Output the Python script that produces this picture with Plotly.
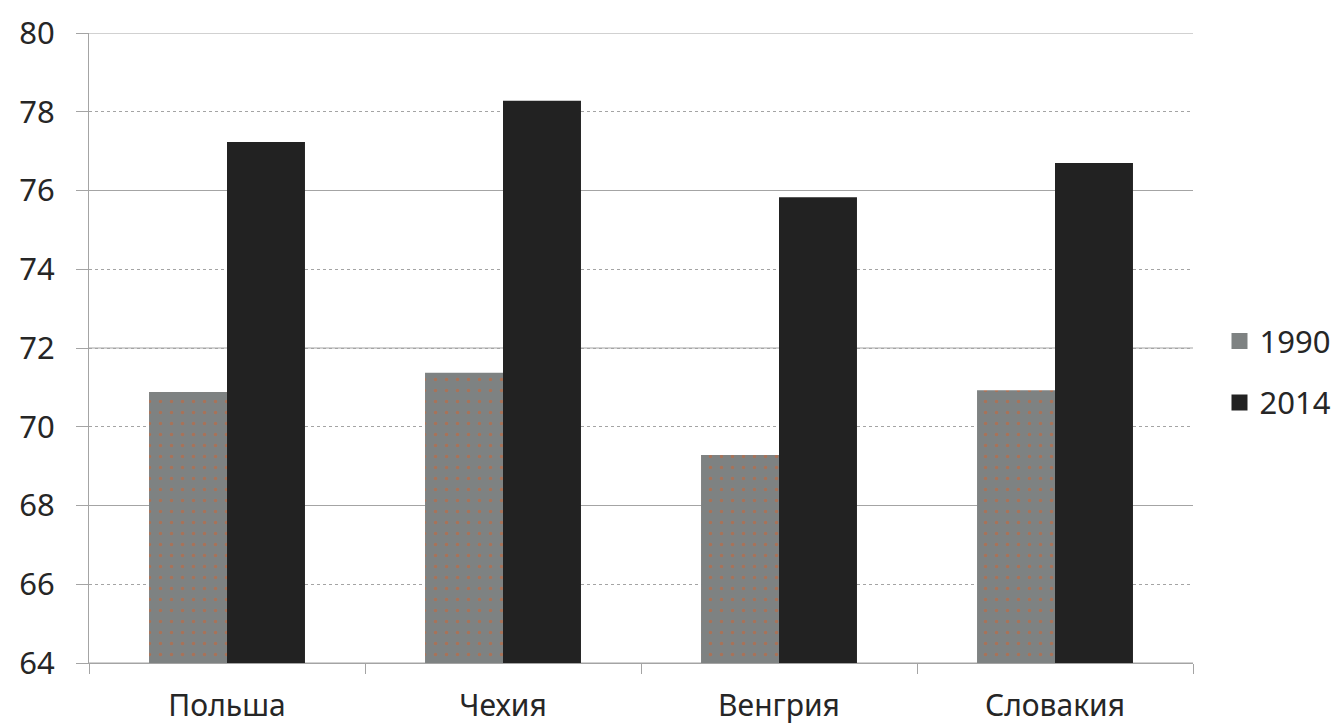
import plotly.graph_objects as go

categories = ["Польша", "Чехия", "Венгрия", "Словакия"]
values_1990 = [70.88, 71.37, 69.28, 70.93]
values_2014 = [77.23, 78.28, 75.83, 76.70]
series_names = ["1990", "2014"]
y_ticks = [64, 66, 68, 70, 72, 74, 76, 78, 80]

FONT = "Segoe UI, Noto Sans, Open Sans, sans-serif"
TXT = "#262626"
GRID = "#a4a4a4"
C1990 = "#7e8282"
C2014 = "#222222"

fig = go.Figure()
fig.add_trace(go.Bar(
    x=categories, y=values_1990, name=series_names[0], showlegend=False,
    marker=dict(color=C1990, line=dict(width=0),
                pattern=dict(shape=".", fgcolor="#d4622e", bgcolor=C1990,
                             size=11, solidity=0.08)),
))
fig.add_trace(go.Bar(
    x=categories, y=values_2014, name=series_names[1], showlegend=False,
    marker=dict(color=C2014, line=dict(width=0)),
))
# legend entries (larger square swatches)
for name, col, grp in [(series_names[0], C1990, "a"), (series_names[1], C2014, "b")]:
    fig.add_trace(go.Scatter(
        x=[categories[0]], y=[None], mode="markers", name=name, legendgroup=grp,
        marker=dict(symbol="square", size=20, color=col, line=dict(width=0)),
        hoverinfo="skip",
    ))

# solid gridlines at every other tick (the rest are dotted)
for v in y_ticks[::2]:
    fig.add_hline(y=v, line=dict(color=GRID, width=1), layer="below")

fig.update_layout(
    width=1334, height=720,
    margin=dict(l=81, r=149, t=25, b=65, autoexpand=False),
    paper_bgcolor="white", plot_bgcolor="white",
    font=dict(family=FONT, size=31, color=TXT),
    barmode="group", bargap=0.435, bargroupgap=0,
    showlegend=True,
    legend=dict(x=1.024, xanchor="left", y=0.462, yanchor="middle",
                tracegroupgap=18, traceorder="grouped", itemsizing="trace",
                font=dict(family=FONT, size=31, color=TXT),
                itemwidth=30),
    xaxis=dict(
        showline=True, linecolor=GRID, linewidth=1, automargin=False,
        ticks="outside", tickson="boundaries", ticklen=10, tickcolor=GRID,
        ticklabelstandoff=16, showgrid=False,
        tickfont=dict(family=FONT, size=30, color=TXT),
    ),
    yaxis=dict(
        range=[64, 80], tickvals=y_ticks, ticktext=[str(v) for v in y_ticks],
        showline=True, linecolor=GRID, linewidth=1, automargin=False,
        ticks="outside", ticklen=12, tickcolor=GRID,
        ticklabelstandoff=15,
        showgrid=True, gridcolor=GRID, gridwidth=1, griddash="dot",
        zeroline=False,
        tickfont=dict(family=FONT, size=31, color=TXT),
    ),
)

fig.write_html("out.html")
